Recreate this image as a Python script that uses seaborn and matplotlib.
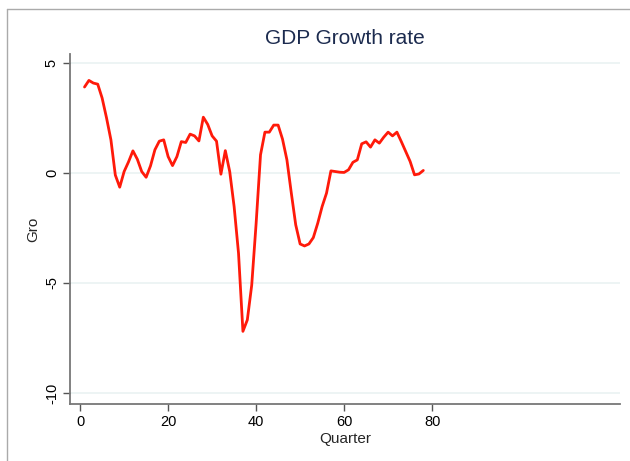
import matplotlib

matplotlib.use("Agg")
import matplotlib.pyplot as plt
import pandas as pd
import seaborn as sns
from matplotlib.lines import Line2D

# GDP growth rate by quarter
quarters = list(range(1, 79))
growth = [
    3.9, 4.2, 4.08, 4.03, 3.4, 2.5, 1.5, -0.1, -0.65, 0.06,
    0.5, 1.0, 0.62, 0.06, -0.2, 0.32, 1.05, 1.44, 1.5, 0.74,
    0.33, 0.74, 1.42, 1.38, 1.76, 1.68, 1.45, 2.53, 2.2, 1.68,
    1.44, -0.06, 1.01, 0.06, -1.53, -3.65, -7.2, -6.68, -5.1, -2.3,
    0.82, 1.85, 1.85, 2.17, 2.17, 1.53, 0.59, -0.92, -2.36, -3.23,
    -3.32, -3.23, -2.94, -2.29, -1.53, -0.92, 0.09, 0.06, 0.03, 0.02,
    0.14, 0.48, 0.59, 1.32, 1.41, 1.17, 1.5, 1.35, 1.62, 1.85,
    1.68, 1.85, 1.42, 0.97, 0.52, -0.09, -0.05, 0.11,
]
x_ticks = [0, 20, 40, 60, 80]
y_ticks = [-10, -5, 0, 5]

df = pd.DataFrame({"Quarter": quarters, "Gro": growth})

sns.set_style("white")
plt.rcParams["font.family"] = ["Liberation Sans", "DejaVu Sans"]

fig = plt.figure(figsize=(6.3, 4.61), dpi=100)
ax = fig.add_axes([70 / 630, 57 / 461, 550 / 630, 350 / 461])

sns.lineplot(data=df, x="Quarter", y="Gro", color="#ff1a0a", lw=2, ax=ax)

ax.set_xlim(-2.3, 122.7)
ax.set_ylim(-10.5, 5.4)
ax.set_xticks(x_ticks)
ax.set_yticks(y_ticks)
ax.set_yticklabels([str(v) for v in y_ticks], rotation=90, va="center")
ax.grid(axis="y", color="#eaf2f2", lw=1.2)
ax.set_axisbelow(True)

for side in ["top", "right"]:
    ax.spines[side].set_visible(False)
for side in ["left", "bottom"]:
    ax.spines[side].set_color("#777777")
    ax.spines[side].set_linewidth(1.3)
ax.tick_params(axis="both", direction="out", length=5, width=1, color="#555555",
               labelsize=10.5, labelcolor="black", left=True, bottom=True, pad=3)

ax.set_xlabel("Quarter", fontsize=11, labelpad=2)
ax.set_ylabel("Gro", fontsize=11, labelpad=3)
ax.set_title("GDP Growth rate", fontsize=15, color="#1c2b4f", pad=7)

# window frame (top and left edges)
fig.add_artist(Line2D([7 / 630, 7 / 630], [0, 1 - 9 / 461], transform=fig.transFigure,
                      color="#aaaaaa", lw=1))
fig.add_artist(Line2D([7 / 630, 1], [1 - 9 / 461, 1 - 9 / 461], transform=fig.transFigure,
                      color="#aaaaaa", lw=1))

fig.savefig("out.png", dpi=100)
